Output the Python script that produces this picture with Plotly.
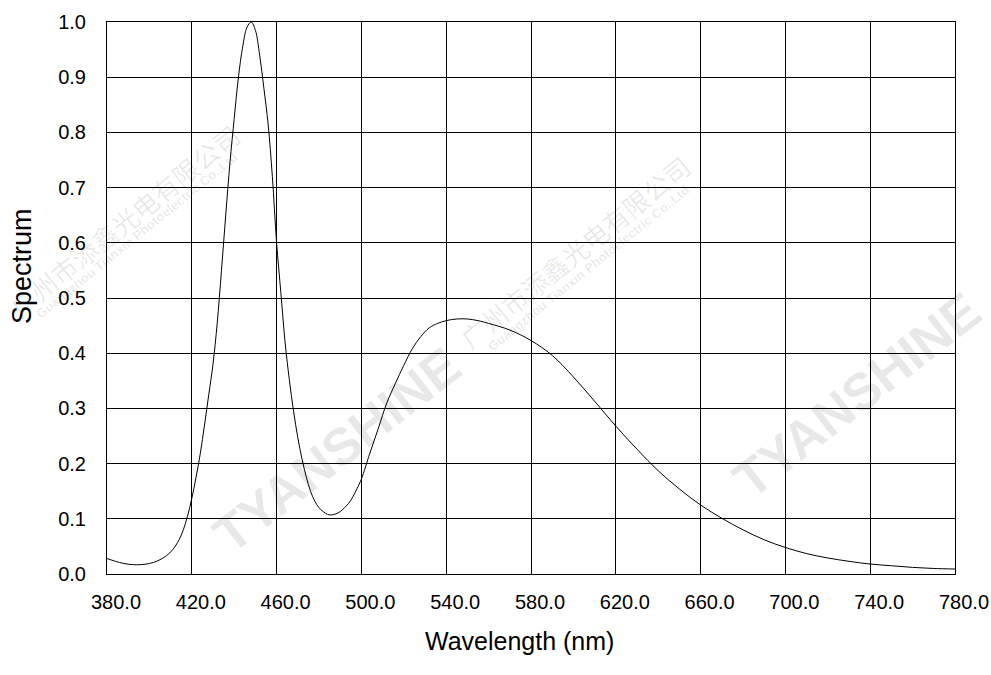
import plotly.graph_objects as go

# ---- data ----
wavelength = [380, 384, 388, 392, 396, 400, 404, 408, 411, 414, 416, 418, 420, 422, 424,
              426, 428, 430, 432, 434, 436, 438, 440, 442, 444, 446, 448, 450, 452, 454,
              456, 458, 460, 462, 464, 466, 468, 470, 472, 474, 476, 478, 480, 482, 484,
              486, 488, 490, 492, 494, 496, 498, 500, 504, 508, 512, 516, 520, 524, 528,
              532, 536, 540, 545, 550, 555, 560, 570, 580, 590, 600, 610, 620, 630, 640,
              650, 660, 670, 680, 690, 700, 710, 720, 730, 740, 750, 760, 770, 780]
spectrum = [0.028, 0.023, 0.019, 0.017, 0.017, 0.019, 0.024, 0.033, 0.044, 0.062, 0.080,
            0.105, 0.137, 0.175, 0.218, 0.270, 0.325, 0.380, 0.455, 0.550, 0.650, 0.745,
            0.825, 0.900, 0.955, 0.990, 1.000, 0.985, 0.940, 0.880, 0.815, 0.720, 0.600,
            0.510, 0.420, 0.352, 0.295, 0.247, 0.208, 0.176, 0.150, 0.132, 0.120, 0.113,
            0.108, 0.107, 0.109, 0.113, 0.120, 0.128, 0.140, 0.155, 0.172, 0.219, 0.264,
            0.310, 0.345, 0.378, 0.408, 0.430, 0.446, 0.454, 0.459, 0.462, 0.462, 0.459,
            0.454, 0.442, 0.423, 0.396, 0.357, 0.313, 0.268, 0.226, 0.187, 0.154, 0.125,
            0.101, 0.080, 0.062, 0.048, 0.037, 0.029, 0.023, 0.018, 0.015, 0.012, 0.010,
            0.009]

x_ticks = [380, 420, 460, 500, 540, 580, 620, 660, 700, 740, 780]
y_ticks = [0.0, 0.1, 0.2, 0.3, 0.4, 0.5, 0.6, 0.7, 0.8, 0.9, 1.0]
x_title = "Wavelength (nm)"
y_title = "Spectrum"
wm_brand = "TYANSHINE"
wm_cn = "广州市添鑫光电有限公司"
wm_en = "Guangzhou Tianxin Photoelectric Co.,Ltd"

W, H = 991, 675
# target plot box in page pixels: x 107..955, y 22..574
L, T = 107, 22
R = W - 955
B = H - 574
PW, PH = W - L - R, H - T - B


def px(X):
    return (X - L) / PW


def py(Y):
    return (H - B - Y) / PH


FONT = "Liberation Sans, Arial, sans-serif"

fig = go.Figure()
fig.add_trace(go.Scatter(x=wavelength, y=spectrum, mode="lines",
                         line=dict(color="black", width=1, shape="spline", smoothing=1.0),
                         hoverinfo="skip", showlegend=False))

axis_common = dict(showgrid=True, gridcolor="black", gridwidth=1, automargin=False,
                   showline=True, linecolor="black", linewidth=1, mirror=True,
                   zeroline=False, ticks="", tickfont=dict(family=FONT, size=20, color="black"))

fig.update_xaxes(range=[380, 780], tickvals=x_ticks,
                 ticktext=[f"{v:.1f}" for v in x_ticks],
                 ticklabelshift=9, ticklabelstandoff=10, ticklabeloverflow="allow",
                 **axis_common)
fig.update_yaxes(range=[0, 1], tickvals=y_ticks,
                 ticktext=[f"{v:.1f}" for v in y_ticks],
                 ticklabelstandoff=16, **axis_common)

wm_color = "rgba(0,0,0,0.09)"
ann = []
# axis titles
ann.append(dict(text=x_title, x=px(519), y=py(641), xref="paper", yref="paper",
                showarrow=False, xanchor="center", yanchor="middle",
                font=dict(family=FONT, size=25, color="black")))
ann.append(dict(text=y_title, x=px(22), y=py(266), xref="paper", yref="paper",
                showarrow=False, xanchor="center", yanchor="middle", textangle=-90,
                font=dict(family=FONT, size=27, color="black")))
# watermarks
for (cx, cy) in [(337, 450), (857, 395)]:
    ann.append(dict(text=f"<b>{wm_brand}</b>", x=px(cx), y=py(cy), xref="paper", yref="paper",
                    showarrow=False, xanchor="center", yanchor="middle", textangle=-38,
                    font=dict(family=FONT, size=52, color=wm_color)))
for (cx, cy) in [(124, 220), (575, 252)]:
    ann.append(dict(text=wm_cn, x=px(cx), y=py(cy), xref="paper", yref="paper",
                    showarrow=False, xanchor="center", yanchor="middle", textangle=-39,
                    font=dict(family="Noto Sans CJK SC", size=26, color=wm_color)))
    ann.append(dict(text=f"<b>{wm_en}</b>", x=px(cx + 13), y=py(cy + 16), xref="paper", yref="paper",
                    showarrow=False, xanchor="center", yanchor="middle", textangle=-39,
                    font=dict(family=FONT, size=13, color=wm_color)))

fig.update_layout(width=W, height=H, margin=dict(l=L, r=R, t=T, b=B),
                  paper_bgcolor="white", plot_bgcolor="white",
                  annotations=ann, showlegend=False)

fig.write_html("out.html",
               config={"displayModeBar": False, "staticPlot": True},
               post_script="document.body.style.margin='0';"
                           "document.documentElement.style.overflow='hidden';")
